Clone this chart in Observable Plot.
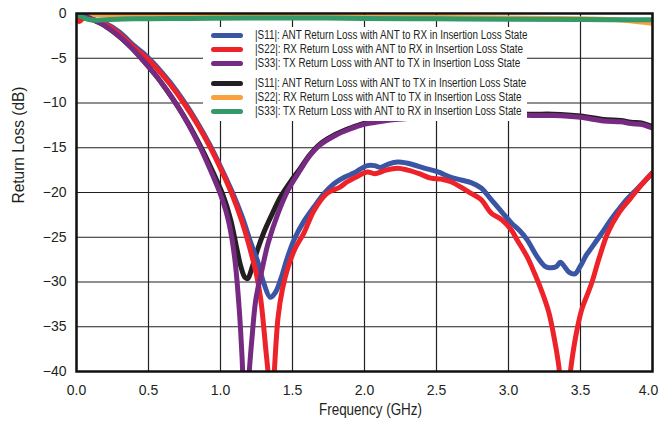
<!DOCTYPE html>
<html><head><meta charset="utf-8">
<script src="https://cdn.jsdelivr.net/npm/d3@7"></script>
<script src="https://cdn.jsdelivr.net/npm/@observablehq/plot@0.6"></script>
<style>
body{margin:0;background:#fff;}
#wrap{position:relative;width:660px;height:424px;font-family:"Liberation Sans",Arial,sans-serif;}
#legend{position:absolute;left:203px;top:27px;width:324px;height:94px;background:#fff;}
.row{position:absolute;left:0;height:14px;display:flex;align-items:center;font-size:12px;color:#231f20;white-space:nowrap;}
.sw{display:inline-block;flex:none;width:32px;height:5px;border-radius:3px;margin-left:8px;margin-right:12px;}
.lt{display:inline-block;transform:scaleX(0.823);transform-origin:0 50%;}
</style></head>
<body>
<div id="wrap"><div id="chart"></div><div id="legend"></div></div>
<script>
// ---- data ----
const xTicks = [0, 0.5, 1.0, 1.5, 2.0, 2.5, 3.0, 3.5, 4.0];
const yTicks = [0, -5, -10, -15, -20, -25, -30, -35, -40];
const xTitle = "Frequency (GHz)";
const yTitle = "Return Loss (dB)";

// |S11| ANT to RX (blue)
const s11RxF  = [0,0.1,0.2,0.3,0.4,0.49,0.55,0.65,0.745,0.84,0.93,1.0,1.08,1.15,1.21,1.26,1.30,1.345,1.38,1.42,1.46,1.51,1.58,1.65,1.72,1.79,1.86,1.93,1.98,2.02,2.07,2.11,2.17,2.23,2.29,2.34,2.42,2.51,2.60,2.67,2.74,2.81,2.88,2.95,3.02,3.08,3.13,3.20,3.25,3.28,3.33,3.36,3.39,3.42,3.46,3.50,3.54,3.58,3.65,3.70,3.76,3.82,3.90,4.0];
const s11RxDb = [-0.1,-0.6,-1.1,-2.1,-3.6,-4.8,-5.8,-7.7,-9.8,-12.2,-14.8,-17.1,-19.9,-22.7,-25.6,-27.8,-30.1,-31.7,-31.2,-29.6,-27.5,-25.3,-23.2,-21.6,-20.1,-19.0,-18.3,-17.8,-17.3,-17.0,-17.0,-17.2,-16.8,-16.6,-16.7,-16.9,-17.3,-17.7,-18.3,-18.6,-18.9,-19.5,-20.8,-22.1,-23.4,-24.3,-25.3,-27.2,-28.2,-28.4,-28.3,-27.8,-28.3,-28.9,-29.1,-28.2,-27.0,-26.1,-24.5,-23.3,-22.0,-20.8,-19.5,-17.8];

// |S22| ANT to RX (red)
const s22RxF  = [0,0.02,0.05,0.1,0.2,0.3,0.4,0.49,0.55,0.65,0.745,0.84,0.93,1.0,1.08,1.15,1.21,1.25,1.28,1.315,1.335,1.35,1.37,1.40,1.43,1.47,1.52,1.58,1.65,1.74,1.83,1.88,1.95,2.02,2.07,2.15,2.23,2.30,2.38,2.46,2.53,2.60,2.67,2.74,2.81,2.88,2.95,3.02,3.06,3.13,3.18,3.23,3.28,3.32,3.35,3.39,3.43,3.47,3.51,3.55,3.58,3.63,3.69,3.77,3.85,3.92,4.0];
const s22RxDb = [-0.2,-0.9,-0.5,-0.6,-1.2,-2.3,-3.8,-5.0,-6.0,-7.9,-10.0,-12.4,-15.0,-17.3,-20.2,-23.3,-26.6,-29.2,-32.0,-37.6,-41,-46,-41,-33.9,-30.8,-28.3,-26.2,-24.5,-22.0,-20.1,-19.4,-18.8,-18.2,-17.7,-17.9,-17.5,-17.3,-17.5,-17.9,-18.4,-18.5,-18.8,-19.4,-20.1,-20.8,-22.3,-23.0,-24.2,-25.3,-27.2,-29.0,-31.0,-33.4,-36.5,-39.5,-47,-40,-35.8,-33.0,-31.3,-30.0,-27.3,-24.5,-22.2,-20.6,-19.2,-17.8];

// |S33| ANT to TX (purple)
const s33TxF  = [0,0.05,0.1,0.2,0.3,0.38,0.45,0.55,0.62,0.70,0.78,0.86,0.93,1.0,1.04,1.07,1.10,1.13,1.15,1.175,1.20,1.22,1.245,1.29,1.33,1.40,1.47,1.55,1.62,1.69,1.80,1.90,1.99,2.10,2.18,2.40,2.70,3.00,3.17,3.31,3.50,3.66,3.78,3.85,3.93,4.0];
const s33TxDb = [0,-0.2,-0.6,-1.4,-2.6,-3.8,-5.0,-6.9,-8.4,-10.3,-12.5,-15.0,-17.5,-20.2,-22.2,-24.3,-27.5,-33.0,-38.5,-48,-40,-36,-32,-28.5,-25.7,-22.3,-19.7,-17.6,-15.9,-14.7,-13.6,-12.9,-12.4,-12.1,-11.9,-11.6,-11.3,-11.3,-11.4,-11.4,-11.6,-12.0,-12.1,-12.3,-12.4,-12.8];

// |S11| ANT to TX (black)
const s11TxF  = [0,0.05,0.1,0.2,0.3,0.38,0.45,0.55,0.62,0.70,0.78,0.86,0.93,1.02,1.07,1.11,1.14,1.17,1.19,1.215,1.257,1.30,1.35,1.42,1.49,1.55,1.62,1.69,1.80,1.90,1.99,2.10,2.18,2.40,2.70,3.00,3.17,3.31,3.50,3.66,3.78,3.85,3.93,4.0];
const s11TxDb = [0,-0.2,-0.6,-1.4,-2.6,-3.8,-5.0,-6.9,-8.4,-10.3,-12.4,-14.8,-17.1,-20.4,-23.0,-26.0,-28.2,-29.5,-29.6,-28.6,-26.4,-24.5,-22.7,-20.4,-18.7,-17.4,-15.8,-14.6,-13.5,-12.8,-12.3,-12.0,-11.8,-11.5,-11.2,-11.2,-11.25,-11.25,-11.45,-11.85,-11.95,-12.15,-12.25,-12.65];

// |S22| ANT to TX (orange)
const s22TxF  = [0,0.2,0.5,1.0,1.5,2.0,2.5,3.0,3.5,3.8,4.0];
const s22TxDb = [0,-0.15,-0.25,-0.3,-0.35,-0.42,-0.45,-0.5,-0.6,-0.75,-1.1];

// |S33| ANT to RX (green)
const s33RxF  = [0,0.03,0.07,0.12,0.2,0.4,0.8,1.2,1.6,2.0,2.5,3.0,3.5,4.0];
const s33RxDb = [-0.1,-0.3,-0.6,-0.75,-0.7,-0.6,-0.55,-0.5,-0.5,-0.55,-0.6,-0.65,-0.68,-0.7];

const legendLabels = [
  "|S11|: ANT Return Loss with ANT to RX in Insertion Loss State",
  "|S22|: RX Return Loss with ANT to RX in Insertion Loss State",
  "|S33|: TX Return Loss with ANT to TX in Insertion Loss State",
  "|S11|: ANT Return Loss with ANT to TX in Insertion Loss State",
  "|S22|: RX Return Loss with ANT to TX in Insertion Loss State",
  "|S33|: TX Return Loss with ANT to RX in Insertion Loss State"
];
const colors = ["#3b55a5", "#ee2229", "#772a81", "#231f20", "#f8a13d", "#349a67"];

// ---- build ----
const seriesData = [
  {f: s11RxF, db: s11RxDb, c: colors[0], order: 2},
  {f: s22RxF, db: s22RxDb, c: colors[1], order: 3},
  {f: s33TxF, db: s33TxDb, c: colors[2], order: 4},
  {f: s11TxF, db: s11TxDb, c: colors[3], order: 1},
  {f: s22TxF, db: s22TxDb, c: colors[4], order: 0},
  {f: s33RxF, db: s33RxDb, c: colors[5], order: 5}
];
const drawOrder = seriesData.slice().sort((a, b) => a.order - b.order);
const lineMarks = drawOrder.map(s => Plot.line(s.f.map((f, i) => ({f, db: s.db[i]})), {
  x: "f", y: "db", stroke: s.c, strokeWidth: 5, curve: "catmull-rom", clip: true
}));

const font = '"Liberation Sans", Arial, sans-serif';
const fmt = d3.format(".1f");
const chart = Plot.plot({
  width: 660, height: 424,
  marginLeft: 76, marginRight: 8, marginTop: 13, marginBottom: 53,
  x: {domain: [0, 4]},
  y: {domain: [-40, 0]},
  style: {fontFamily: font, fontSize: "14px", color: "#231f20", background: "white"},
  marks: [
    Plot.gridX(xTicks, {stroke: "#231f20", strokeOpacity: 1, strokeWidth: 1.2}),
    Plot.gridY(yTicks, {stroke: "#231f20", strokeOpacity: 1, strokeWidth: 1.2}),
    ...lineMarks,
    Plot.frame({stroke: "#111", strokeWidth: 2.5}),
    Plot.axisX(xTicks.slice(0, -1), {tickSize: 0, tickPadding: 14, tickFormat: fmt, label: null, fontSize: 14}),
    Plot.axisX(xTicks.slice(-1), {tickSize: 0, tickPadding: 14, tickFormat: fmt, label: null, fontSize: 14, dx: -4}),
    Plot.axisY(yTicks, {tickSize: 0, tickPadding: 10, label: null, fontSize: 14}),
    Plot.text([xTitle], {frameAnchor: "bottom", dx: 6, dy: 43, fontSize: 16, fill: "#231f20"}),
    Plot.text([yTitle], {frameAnchor: "left", dx: -58, dy: 11, rotate: -90, fontSize: 16, fill: "#231f20"})
  ]
});
document.getElementById("chart").appendChild(chart);

// condense the axis titles like the reference's narrow type
chart.querySelectorAll("text").forEach(t => {
  if (t.textContent === xTitle) { t.setAttribute("textLength", 103); t.setAttribute("lengthAdjust", "spacingAndGlyphs"); }
  if (t.textContent === yTitle) { t.setAttribute("textLength", 117); t.setAttribute("lengthAdjust", "spacingAndGlyphs"); }
});

const legend = document.getElementById("legend");
legendLabels.forEach((lab, i) => {
  const row = document.createElement("div");
  row.className = "row";
  row.style.top = (1 + i * 14 + (i >= 3 ? 6 : 0)) + "px";
  const sw = document.createElement("span");
  sw.className = "sw";
  sw.style.background = colors[i];
  const t = document.createElement("span");
  t.className = "lt";
  t.textContent = lab;
  row.appendChild(sw); row.appendChild(t);
  legend.appendChild(row);
});
</script>
</body></html>
